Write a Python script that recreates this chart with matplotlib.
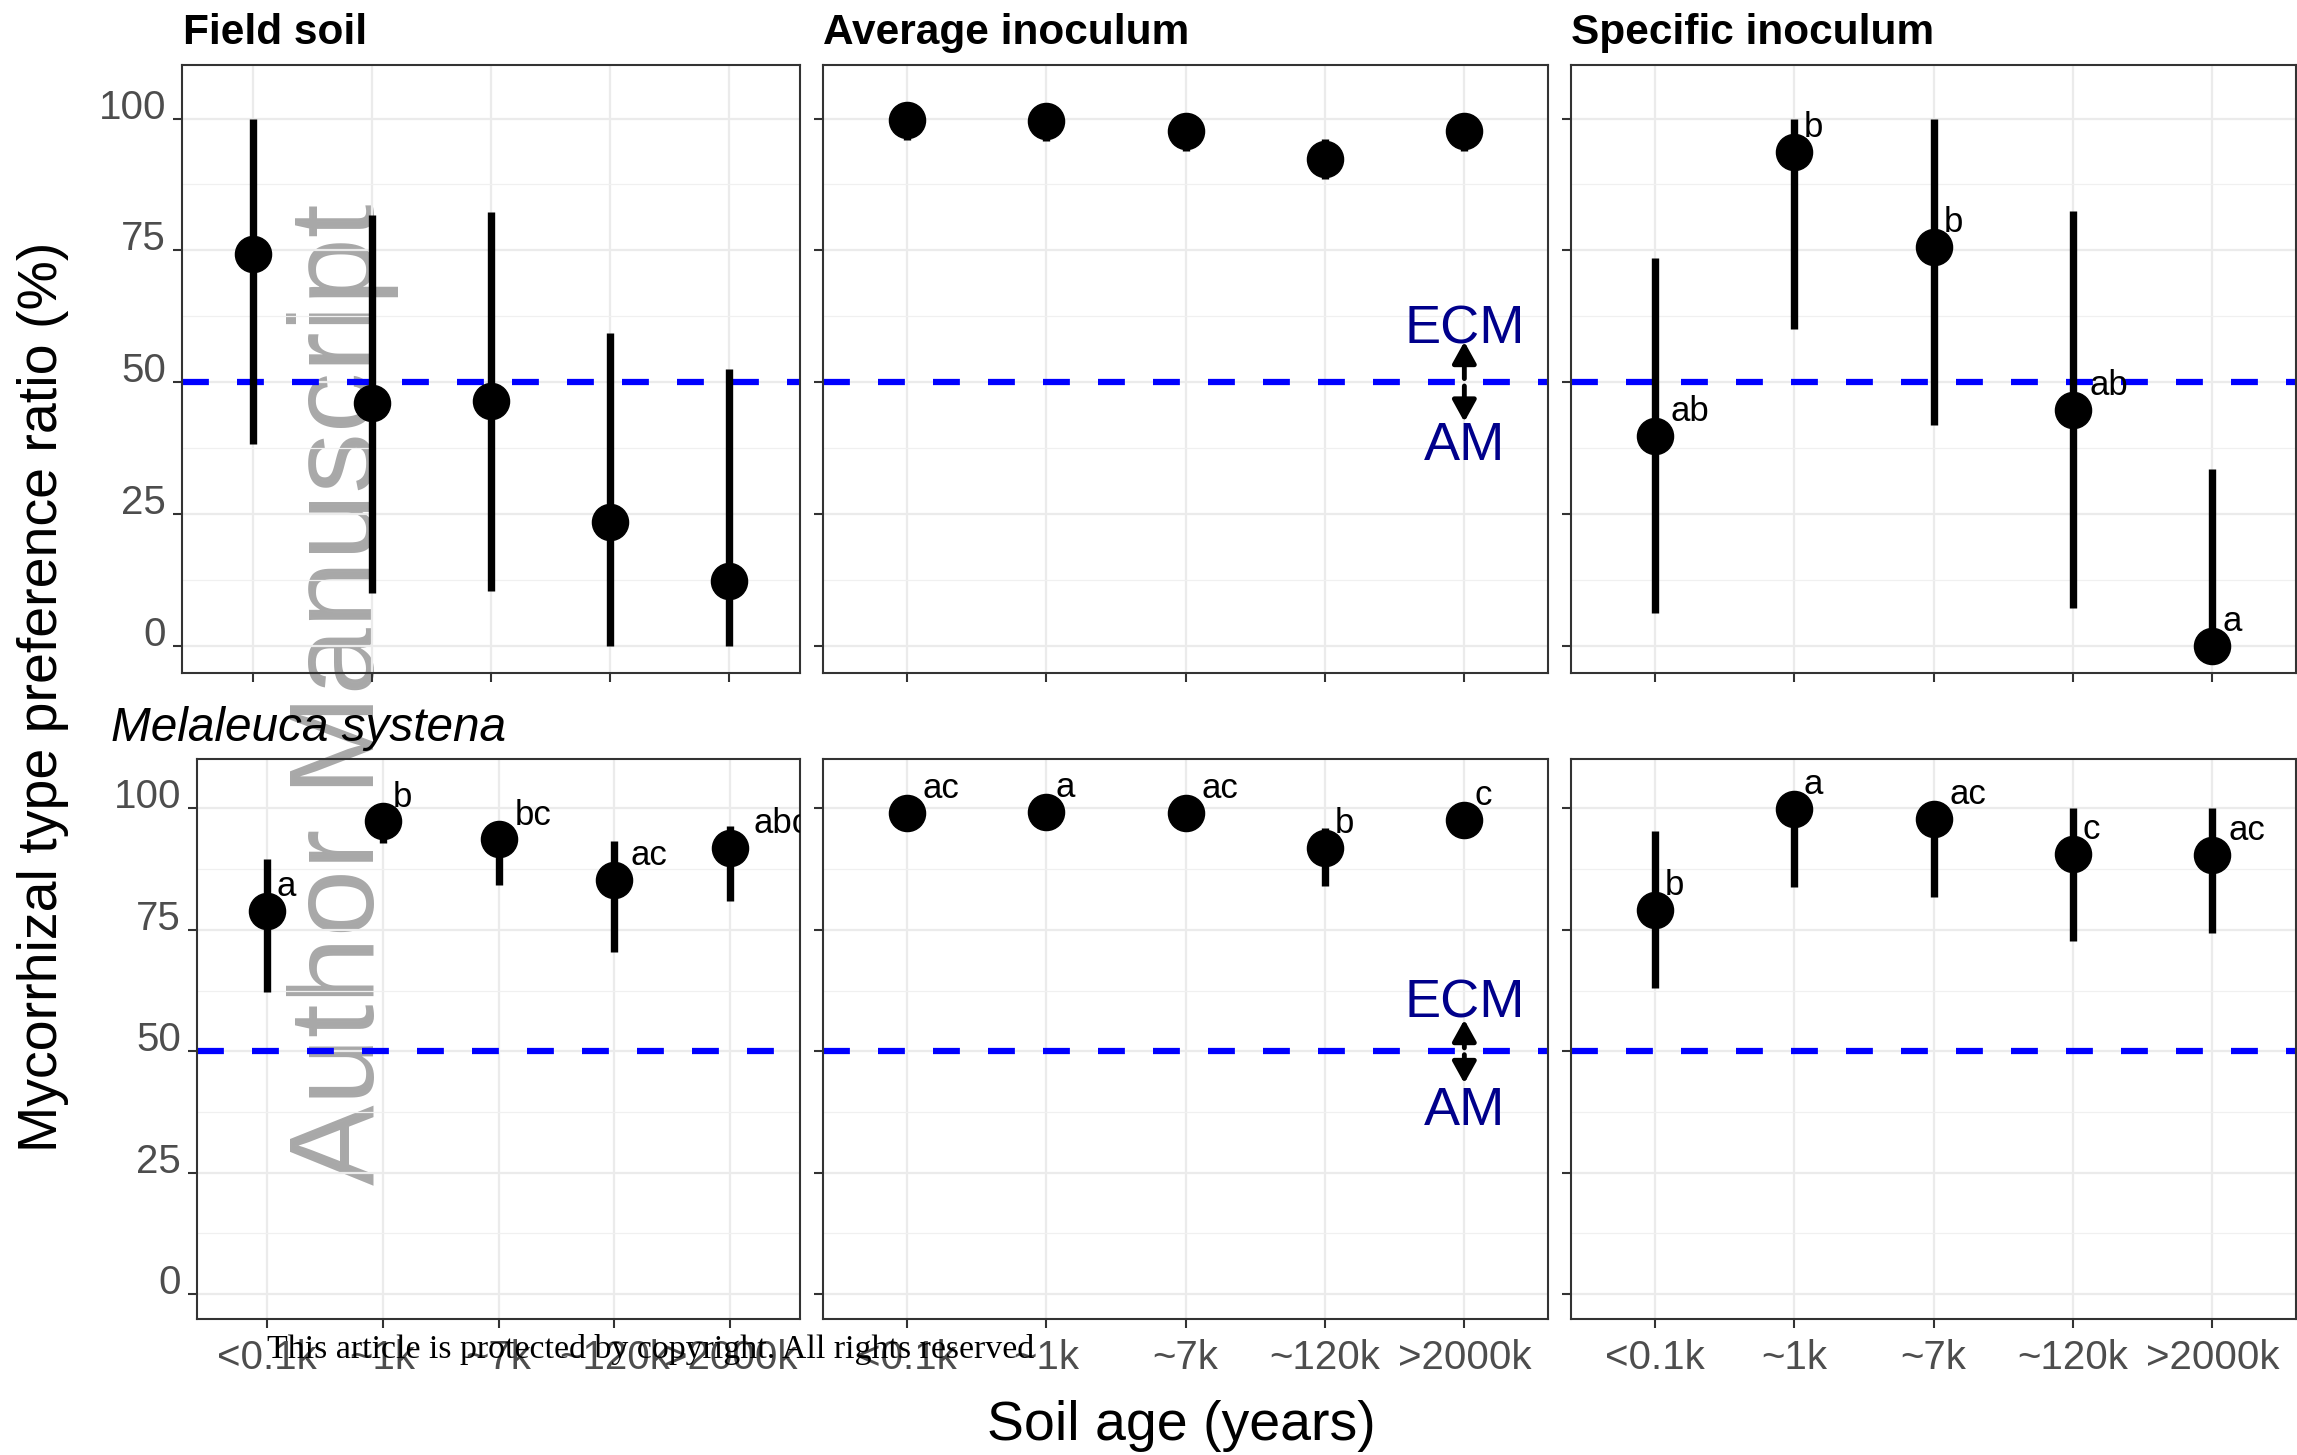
import matplotlib
matplotlib.use("Agg")
import matplotlib.pyplot as plt
from matplotlib.patches import FancyArrowPatch

plt.rcParams['font.family'] = ['Liberation Sans', 'DejaVu Sans']

# ---------------- data ----------------
categories = ["<0.1k", "~1k", "~7k", "~120k", ">2000k"]

# top row
field_top_mean = [74.4, 46.0, 46.4, 23.6, 12.4]
field_top_lo = [38.4, 10.1, 10.5, 0.0, 0.0]
field_top_hi = [100.0, 81.8, 82.2, 59.4, 52.6]

avg_top_mean = [99.8, 99.6, 97.6, 92.3, 97.6]
avg_top_lo = [96.0, 95.7, 93.8, 88.5, 93.8]
avg_top_hi = [100.0, 100.0, 100.0, 96.2, 100.0]

spec_top_mean = [39.9, 93.7, 75.6, 44.8, 0.0]
spec_top_lo = [6.3, 60.1, 42.0, 7.2, 0.0]
spec_top_hi = [73.5, 100.0, 100.0, 82.5, 33.6]
spec_top_letters = ["ab", "b", "b", "ab", "a"]

# bottom row (Melaleuca systena)
field_bot_mean = [78.8, 97.3, 93.6, 85.3, 91.9]
field_bot_lo = [62.2, 92.9, 84.2, 70.4, 81.0]
field_bot_hi = [89.6, 100.0, 97.5, 93.3, 96.3]
field_bot_letters = ["a", "b", "bc", "ac", "abc"]

avg_bot_mean = [99.1, 99.3, 99.1, 91.8, 97.6]
avg_bot_lo = [98.0, 98.5, 98.0, 84.1, 93.9]
avg_bot_hi = [100.0, 100.0, 100.0, 95.9, 100.0]
avg_bot_letters = ["ac", "a", "ac", "b", "c"]

spec_bot_mean = [79.1, 99.9, 97.8, 90.7, 90.5]
spec_bot_lo = [63.0, 83.8, 81.7, 72.7, 74.3]
spec_bot_hi = [95.4, 100.0, 100.0, 100.0, 100.0]
spec_bot_letters = ["b", "a", "ac", "c", "ac"]

yticks = [0, 25, 50, 75, 100]
ref_line = 50
# ECM / AM annotation values (text centre y, arrow tips), per row
ecm_text_y = [60.9, 60.8]
am_text_y = [38.8, 38.6]
arrow_up_tip = [57.7, 56.5]
arrow_down_tip = [42.5, 43.4]

# ---------------- layout ----------------
W, H = 2297, 1455
fig = plt.figure(figsize=(W / 100, H / 100), dpi=100)
fig.patch.set_facecolor('white')


def px_axes(l, t, r, b):
    return fig.add_axes([l / W, 1 - b / H, (r - l) / W, (b - t) / H])


panels = [
    # (l, t, r, b, mean, lo, hi, letters, row, col)
    (182, 64.7, 800, 673, field_top_mean, field_top_lo, field_top_hi, None, 0, 0),
    (823, 64.7, 1548, 673, avg_top_mean, avg_top_lo, avg_top_hi, None, 0, 1),
    (1571, 64.7, 2296, 673, spec_top_mean, spec_top_lo, spec_top_hi, spec_top_letters, 0, 2),
    (197, 758.8, 800, 1319, field_bot_mean, field_bot_lo, field_bot_hi, field_bot_letters, 1, 0),
    (823, 758.8, 1548, 1319, avg_bot_mean, avg_bot_lo, avg_bot_hi, avg_bot_letters, 1, 1),
    (1571, 758.8, 2296, 1319, spec_bot_mean, spec_bot_lo, spec_bot_hi, spec_bot_letters, 1, 2),
]

xpos = list(range(1, len(categories) + 1))

for (l, t, r, b, mean, lo, hi, letters, row, col) in panels:
    ax = px_axes(l, t, r, b)
    ax.set_facecolor('none')
    ax.set_xlim(0.4, 5.6)
    ax.set_ylim(-5.1, 110.2)
    ax.set_xticks(xpos)
    ax.set_xticklabels(categories)
    ax.set_yticks(yticks)
    ax.set_yticks([12.5, 37.5, 62.5, 87.5], minor=True)
    ax.set_axisbelow(True)
    ax.grid(which='major', color='#EBEBEB', lw=1.6)
    ax.grid(which='minor', axis='y', color='#F0F0F0', lw=0.9)
    for s in ax.spines.values():
        s.set_color('#333333')
        s.set_linewidth(1.5)
    ax.tick_params(which='major', length=6.5, width=1.5, color='#333333',
                   labelsize=29, labelcolor='#4D4D4D')
    ax.tick_params(axis='y', pad=5)
    ax.tick_params(axis='x', pad=8)
    ax.tick_params(which='minor', length=0)
    if row == 0:
        ax.tick_params(axis='x', labelbottom=False)
    if col != 0:
        ax.tick_params(axis='y', labelleft=False)
    for lab in ax.get_yticklabels():
        lab.set_verticalalignment('baseline')

    ax.axhline(ref_line, color='#0000FF', lw=4.5, dashes=(4.3, 4.5), zorder=2)
    ax.vlines(xpos, lo, hi, color='black', lw=5.3, zorder=3)
    ax.plot(xpos, mean, 'o', ms=26, color='black', zorder=4, clip_on=False)

    if letters is not None:
        for x, m, lbl in zip(xpos, mean, letters):
            ax.annotate(lbl, (x, m), xytext=(2.3 + 4.7 * len(lbl), 17.6),
                        textcoords='offset points', ha='left', va='center',
                        fontsize=25, color='black', clip_on=True, zorder=5)

    if col == 1:
        for txt, ty in (("ECM", ecm_text_y[row]), ("AM", am_text_y[row])):
            ax.annotate(txt, (5, ty), xytext=(0, -13.5), textcoords='offset points',
                        ha='center', va='baseline', fontsize=39, color='#00008B',
                        zorder=5)
        for y0, y1 in [(ref_line + 0.7, arrow_up_tip[row]), (ref_line - 0.7, arrow_down_tip[row])]:
            arr = FancyArrowPatch((5, y0), (5, y1),
                                  arrowstyle='-|>,head_length=0.65,head_width=0.36',
                                  mutation_scale=20, lw=3.5, color='black',
                                  shrinkA=0, shrinkB=0, zorder=5)
            ax.add_patch(arr)

# ---------------- figure texts ----------------
for xp, title in ((183, "Field soil"), (823, "Average inoculum"), (1571, "Specific inoculum")):
    fig.text(xp / W, 1 - 43.7 / H, title, fontsize=30.5, fontweight='bold',
             ha='left', va='baseline')
fig.text(111 / W, 1 - 741 / H, "Melaleuca systena", fontsize=34.4, style='italic',
         ha='left', va='baseline')
fig.text(57.5 / W, 1 - 697 / H, "Mycorrhizal type preference ratio (%)", fontsize=40,
         rotation=90, rotation_mode='anchor', ha='center', va='baseline')
fig.text(1181 / W, 1 - 1440 / H, "Soil age (years)", fontsize=40,
         ha='center', va='baseline')
fig.text(374 / W, 1 - 1185 / H, "Author Manuscript", fontsize=87, color='#A8A8A8',
         rotation=90, rotation_mode='anchor', ha='left', va='baseline', zorder=-1)
fig.text(267 / W, 1 - 1358 / H,
         "This article is protected by copyright. All rights reserved",
         fontsize=24.4, family=['Liberation Serif', 'DejaVu Serif'],
         ha='left', va='baseline', zorder=10)

fig.savefig("out.png", dpi=100, facecolor='white')
